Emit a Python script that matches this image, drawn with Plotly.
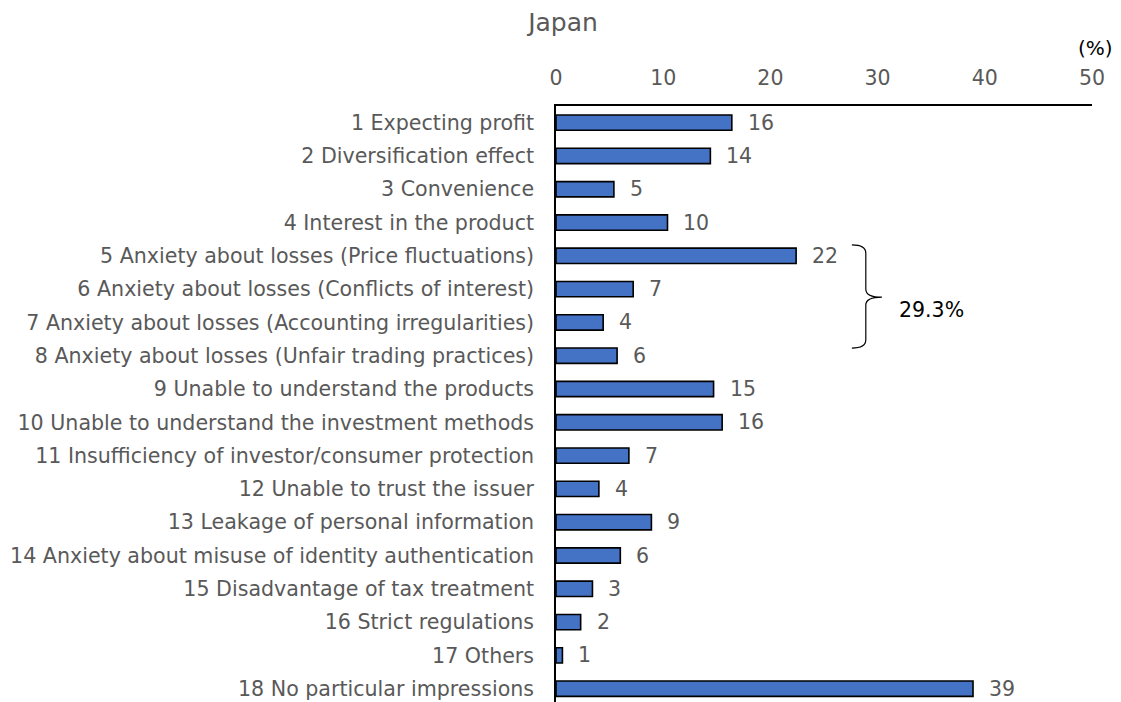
import plotly.graph_objects as go

# Survey results: impressions of security tokens (Japan), % of respondents
categories = [
    "1 Expecting profit",
    "2 Diversification effect",
    "3 Convenience",
    "4 Interest in the product",
    "5 Anxiety about losses (Price fluctuations)",
    "6 Anxiety about losses (Conflicts of interest)",
    "7 Anxiety about losses (Accounting irregularities)",
    "8 Anxiety about losses (Unfair trading practices)",
    "9 Unable to understand the products",
    "10 Unable to understand the investment methods",
    "11 Insufficiency of investor/consumer protection",
    "12 Unable to trust the issuer",
    "13 Leakage of personal information",
    "14 Anxiety about misuse of identity authentication",
    "15 Disadvantage of tax treatment",
    "16 Strict regulations",
    "17 Others",
    "18 No particular impressions",
]
values = [16.4, 14.4, 5.4, 10.4, 22.4, 7.2, 4.4, 5.7, 14.7, 15.5,
          6.8, 4.0, 8.9, 6.0, 3.4, 2.3, 0.6, 38.9]
x_ticks = [0, 10, 20, 30, 40, 50]
anxiety_total_label = "29.3%"

GREY = "#595959"
FONT = "DejaVu Sans"
positions = list(range(len(categories)))

fig = go.Figure()
fig.add_trace(go.Bar(
    x=values,
    y=positions,
    orientation="h",
    marker=dict(color="#4472C4", line=dict(color="#000000", width=1.6)),
    width=0.46,
    hoverinfo="x+y",
))

# value labels to the right of each bar
for pos, v in zip(positions, values):
    fig.add_annotation(
        x=v, y=pos, xref="x", yref="y",
        text=f"{v:.0f}", showarrow=False,
        xanchor="left", yanchor="middle", xshift=14,
        font=dict(family=FONT, size=20.5, color=GREY),
    )

# curly bracket grouping the four "Anxiety about losses" items
fig.add_shape(
    type="path", xref="x", yref="y",
    path=("M 27.6,3.67 Q 28.9,3.67 28.9,3.92 L 28.9,5.0 "
          "Q 28.9,5.24 30.4,5.24 Q 28.9,5.24 28.9,5.48 "
          "L 28.9,6.52 Q 28.9,6.77 27.6,6.77"),
    line=dict(color="#000000", width=1.2),
)
fig.add_annotation(
    x=35.0, y=5.63, xref="x", yref="y",
    text=anxiety_total_label, showarrow=False,
    xanchor="center", yanchor="middle",
    font=dict(family=FONT, size=20.5, color="#000000"),
)

# unit label above the axis
fig.add_annotation(
    x=1.006, y=1.097, xref="paper", yref="paper",
    text="(%)", showarrow=False,
    xanchor="center", yanchor="middle",
    font=dict(family=FONT, size=20, color="#000000"),
)

fig.update_layout(
    width=1121, height=702,
    margin=dict(l=556, r=29, t=106, b=0),
    paper_bgcolor="white", plot_bgcolor="white",
    showlegend=False,
    title=dict(
        text="Japan", x=563 / 1121, y=1 - 22 / 702,
        xref="container", yref="container",
        xanchor="center", yanchor="middle",
        font=dict(family=FONT, size=25, color=GREY),
    ),
    xaxis=dict(
        side="top", range=[0, 50],
        tickvals=x_ticks, ticktext=[str(t) for t in x_ticks],
        showgrid=False, zeroline=False,
        showline=True, linecolor="#000000", linewidth=1.6,
        ticks="", ticklabelstandoff=11,
        tickfont=dict(family=FONT, size=20.5, color=GREY),
        fixedrange=True,
    ),
    yaxis=dict(
        range=[17.4, -0.5],
        tickvals=positions, ticktext=categories,
        showgrid=False, zeroline=False,
        showline=True, linecolor="#000000", linewidth=1.6,
        ticks="", ticklabelstandoff=16,
        tickfont=dict(family=FONT, size=20.6, color=GREY),
        fixedrange=True,
    ),
)

fig.write_html("out.html")
